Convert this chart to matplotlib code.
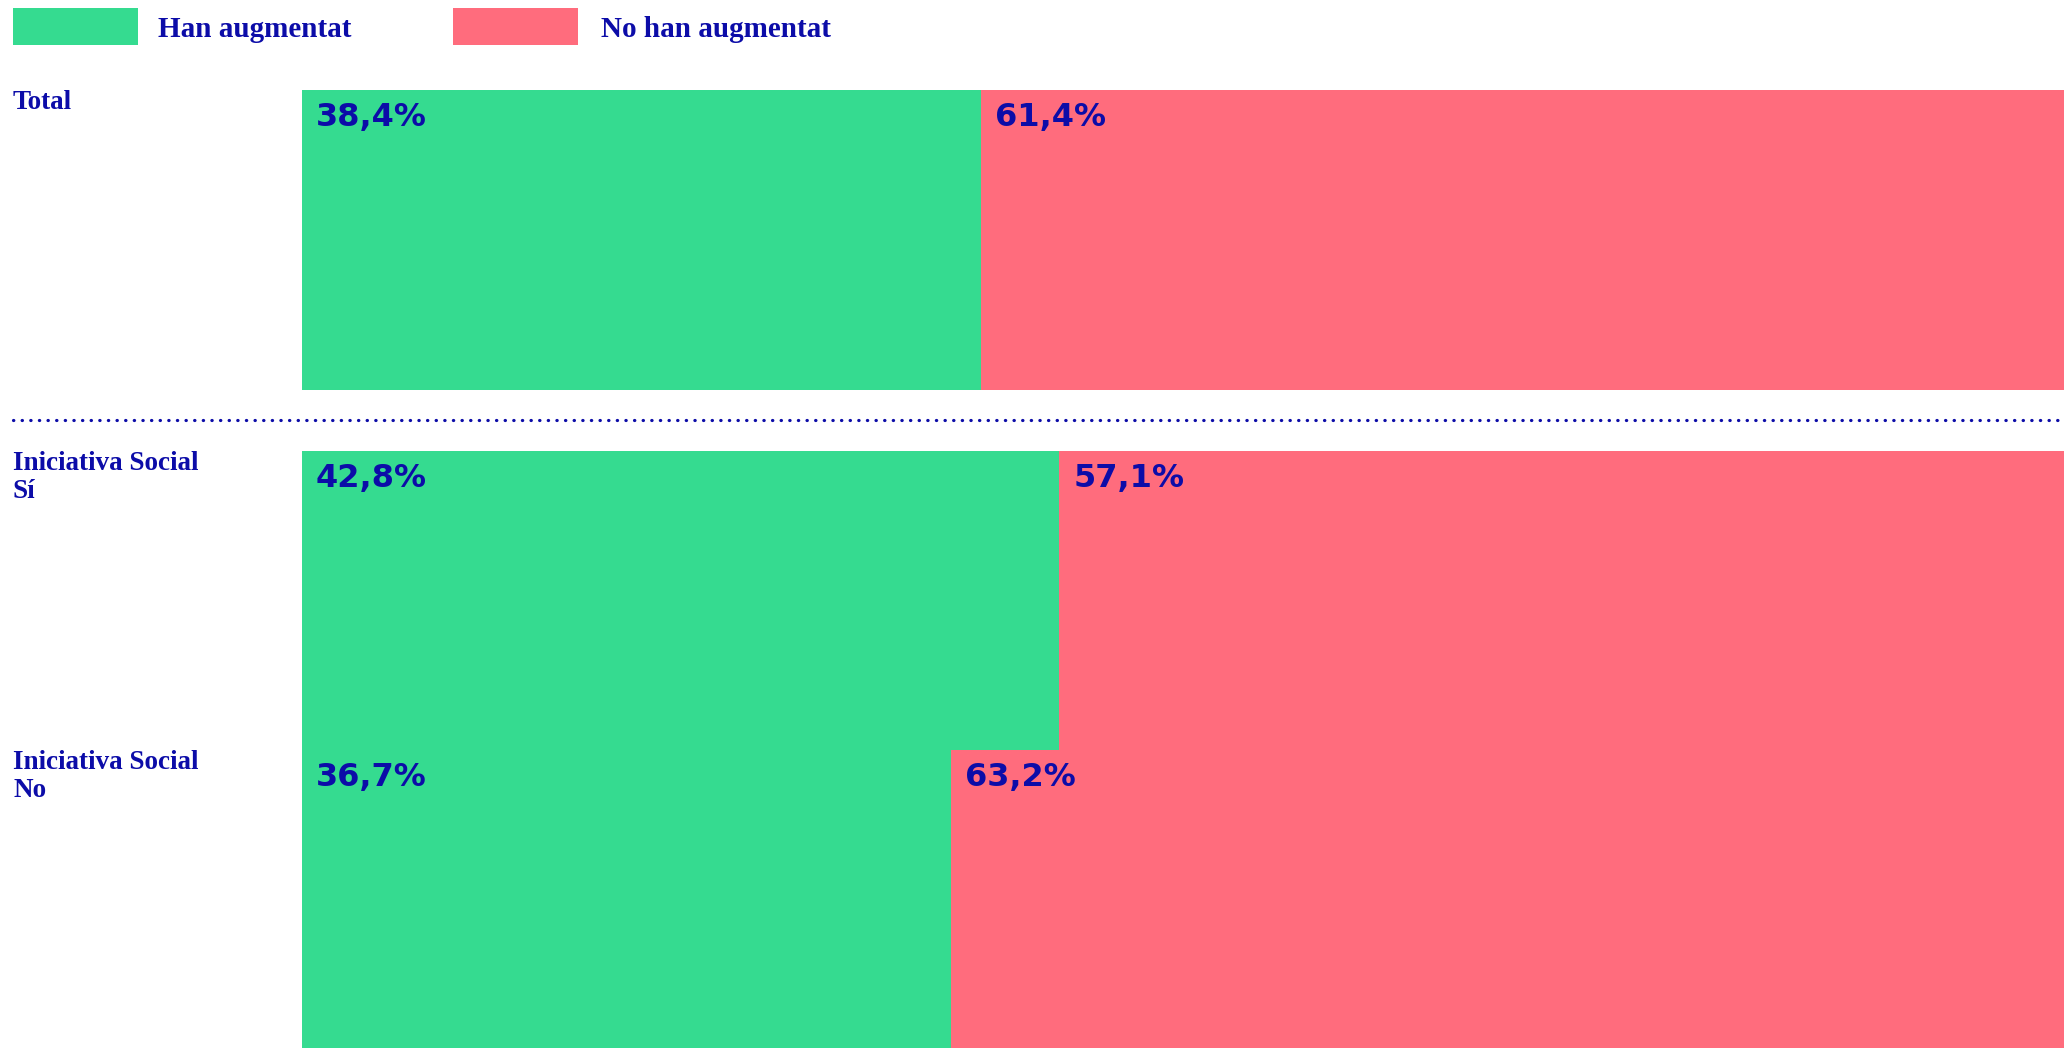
import matplotlib
matplotlib.use("Agg")
import matplotlib.pyplot as plt
from matplotlib.patches import Rectangle
from matplotlib.lines import Line2D

# ---- data ----
categories = ["Total", "Iniciativa Social\nSí", "Iniciativa Social\nNo"]
han_augmentat = [38.4, 42.8, 36.7]
no_han_augmentat = [61.4, 57.1, 63.2]
series_names = ["Han augmentat", "No han augmentat"]

# ---- style ----
GREEN = "#35db90"
RED = "#ff6c7d"
NAVY = "#0c0ca8"
W, H = 2064, 1048
DPI = 100

fig = plt.figure(figsize=(W / DPI, H / DPI), dpi=DPI)
fig.patch.set_facecolor("white")

# overlay axes in pixel coordinates for legend / labels / separator
ov = fig.add_axes([0, 0, 1, 1])
ov.set_xlim(0, W)
ov.set_ylim(H, 0)
ov.axis("off")

# bar axes
left_px = 302
ax = fig.add_axes([left_px / W, 0, 1 - left_px / W, 1])
ax.set_xlim(0, 99.6)
ax.set_ylim(H, 0)
ax.axis("off")

band_tops = [90, 451, 750]
band_bots = [390, 750, 1048]
centers = [(t + b) / 2 for t, b in zip(band_tops, band_bots)]
heights = [b - t for t, b in zip(band_tops, band_bots)]

ax.barh(centers, han_augmentat, height=heights, left=0, color=GREEN, linewidth=0)
ax.barh(centers, no_han_augmentat, height=heights, left=han_augmentat, color=RED, linewidth=0)


def fmt(v):
    return f"{v:.1f}%".replace(".", ",")


for i in range(len(categories)):
    top = band_tops[i]
    for x0, v in ((0, han_augmentat[i]), (han_augmentat[i], no_han_augmentat[i])):
        ax.annotate(fmt(v), xy=(x0, top), xytext=(14, -36), textcoords="offset pixels",
                    ha="left", va="baseline", fontsize=23, fontweight="heavy",
                    family="DejaVu Sans", color=NAVY)

# category labels
for i, cat in enumerate(categories):
    base = band_tops[i] + 19
    for j, line in enumerate(cat.split("\n")):
        ov.text(13, base + 28 * j, line, ha="left", va="baseline", fontsize=19.5,
                fontweight="bold", family="Liberation Serif", color=NAVY)

# separator (dotted)
ov.add_line(Line2D([13, W], [420, 420], color=NAVY, linewidth=2.3,
                   linestyle=(0, (0.1, 2.6)), dash_capstyle="round"))

# legend
leg = [(13, GREEN, 158), (453, RED, 601)]
for (bx, col, tx), name in zip(leg, series_names):
    ov.add_patch(Rectangle((bx, 8), 125, 37, facecolor=col, edgecolor="none"))
    ov.text(tx, 37, name, ha="left", va="baseline", fontsize=21, fontweight="bold",
            family="Liberation Serif", color=NAVY)

fig.savefig("out.png", dpi=DPI, facecolor="white")
